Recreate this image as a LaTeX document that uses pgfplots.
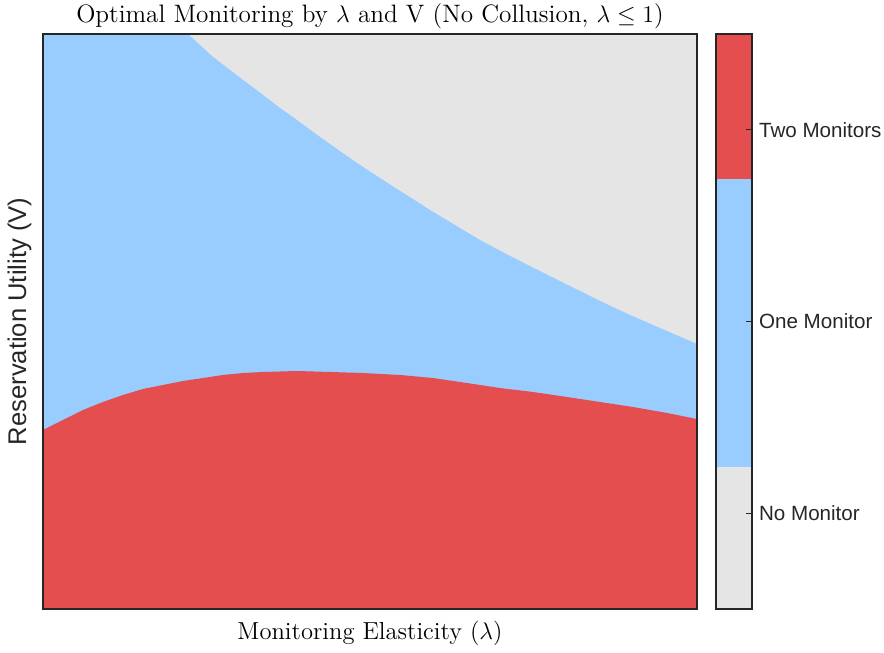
\documentclass[border=0pt]{standalone}
\usepackage{pgfplots}
\pgfplotsset{compat=1.18}
\usepackage{fontspec}
\newfontfamily\hv{Liberation Sans}
\definecolor{cnone}{RGB}{229,229,229}
\definecolor{cone}{RGB}{153,204,255}
\definecolor{ctwo}{RGB}{229,78,78}
\definecolor{txt}{RGB}{38,38,38}
\begin{document}
\begin{tikzpicture}
\begin{axis}[
  at={(21.5pt,22pt)}, anchor=south west,
  width=327pt, height=287.5pt, scale only axis,
  xmin=0, xmax=1, ymin=0, ymax=1,
  xtick=\empty, ytick=\empty,
  axis background/.style={fill=cnone},
  axis on top,
  axis line style={txt, line width=0.6pt},
  every axis title shift=0pt,
  title={Optimal Monitoring by $\lambda$ and V (No Collusion, $\lambda \leq 1$)},
  title style={font=\fontsize{12.6}{14}\selectfont, at={(axis description cs:0.5,1)}, anchor=south, yshift=-0.8pt},
  xlabel={Monitoring Elasticity ($\lambda$)},
  xlabel style={font=\fontsize{12.3}{14}\selectfont, at={(axis description cs:0.5,0)}, anchor=north, yshift=-2.5pt},
  ylabel={Reservation Utility (V)},
  ylabel style={font=\hv\fontsize{12.8}{15}\selectfont, color=txt, at={(axis description cs:-0.007,0.5)}, anchor=south},
]
\addplot[draw=none, fill=cone] coordinates {
 (0,1) (0.2217,1.0000) (0.2599,0.9600) (0.2859,0.9374) (0.3119,0.9148) (0.3364,0.8939)
 (0.3624,0.8713) (0.3884,0.8504) (0.4128,0.8296) (0.4388,0.8087) (0.4648,0.7878)
 (0.4893,0.7687) (0.5153,0.7496) (0.5413,0.7304) (0.5657,0.7130) (0.5917,0.6939)
 (0.6223,0.6730) (0.6682,0.6417) (0.7141,0.6139) (0.7599,0.5878) (0.8058,0.5617)
 (0.8517,0.5357) (0.8976,0.5113) (0.9434,0.4887) (0.9893,0.4661) (1.0,0.4609)} \closedcycle;
\addplot[draw=none, fill=ctwo] coordinates {
 (0,0.3113) (0.0306,0.3287) (0.0612,0.3461) (0.0917,0.3600) (0.1223,0.3722)
 (0.1529,0.3826) (0.1835,0.3896) (0.2141,0.3965) (0.2446,0.4017) (0.2752,0.4070)
 (0.3058,0.4104) (0.3364,0.4122) (0.3884,0.4139) (0.4388,0.4122) (0.4893,0.4104)
 (0.5459,0.4070) (0.5963,0.4017) (0.6483,0.3930) (0.6988,0.3843) (0.7492,0.3774)
 (0.8012,0.3687) (0.8517,0.3600) (0.9021,0.3513) (0.9541,0.3409) (1.0,0.3304)} \closedcycle;
\end{axis}
\begin{axis}[
  at={(358pt,22pt)}, anchor=south west,
  width=18pt, height=287.5pt, scale only axis,
  xmin=0, xmax=1, ymin=-0.5, ymax=2.5,
  xtick=\empty, ytick={0,1,2},
  yticklabels={No Monitor, One Monitor, Two Monitors},
  ytick pos=right, yticklabel pos=right,
  tick align=inside, major tick length=3pt,
  yticklabel style={font=\hv\fontsize{10.3}{12}\selectfont, color=txt},
  axis on top,
  axis line style={txt, line width=0.6pt},
  tick style={txt, line width=0.6pt},
]
\addplot[draw=none, fill=cnone] coordinates {(0,-0.5) (1,-0.5) (1,0.241) (0,0.241)} -- cycle;
\addplot[draw=none, fill=cone] coordinates {(0,0.241) (1,0.241) (1,1.743) (0,1.743)} -- cycle;
\addplot[draw=none, fill=ctwo] coordinates {(0,1.743) (1,1.743) (1,2.5) (0,2.5)} -- cycle;
\end{axis}
\pgfresetboundingbox
\path[use as bounding box] (0,0) rectangle (442pt,326.5pt);
\end{tikzpicture}
\end{document}
